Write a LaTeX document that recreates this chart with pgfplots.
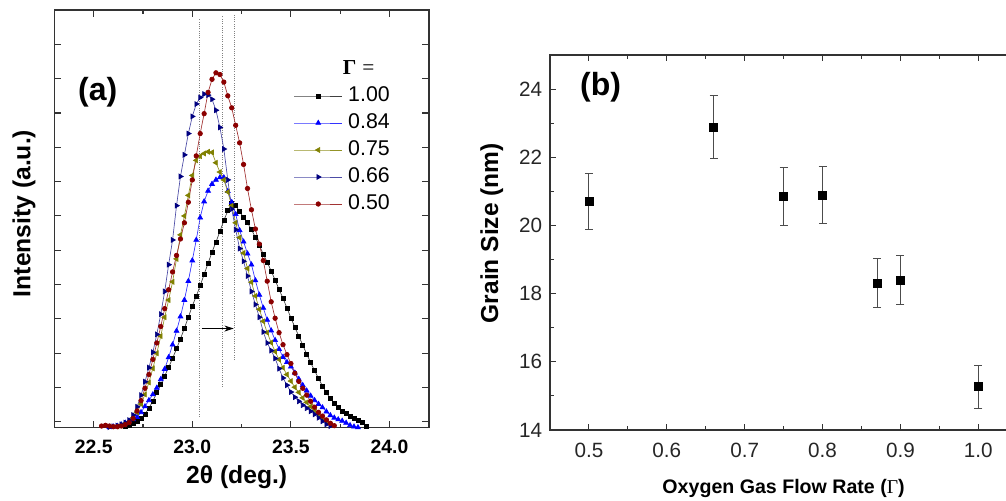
\documentclass[border=0pt]{standalone}
\usepackage{pgfplots}
\pgfplotsset{compat=1.18}
\usepackage{fontspec}
\setmainfont{Liberation Sans}
\newfontfamily\serif{Liberation Serif}
\usetikzlibrary{arrows.meta}

\definecolor{cblk}{HTML}{000000}
\definecolor{cblue}{HTML}{0000FF}
\definecolor{colive}{HTML}{808000}
\definecolor{cnavy}{HTML}{000080}
\definecolor{cred}{HTML}{8B0000}

\pgfplotstableread{
x y
22.66 -0.12
22.68 -0.09
22.70 -0.05
22.72 0.02
22.74 0.10
22.76 0.23
22.78 0.40
22.80 0.61
22.82 0.85
22.84 1.08
22.86 1.34
22.88 1.59
22.90 1.85
22.92 2.13
22.94 2.42
22.96 2.73
22.98 3.05
23.00 3.38
23.02 3.66
23.04 3.97
23.06 4.30
23.08 4.62
23.10 4.95
23.12 5.24
23.14 5.55
23.16 5.87
23.18 6.15
23.20 6.38
23.22 6.31
23.24 6.12
23.26 5.96
23.28 5.80
23.30 5.60
23.32 5.38
23.34 5.14
23.36 4.89
23.38 4.65
23.40 4.40
23.42 4.13
23.44 3.86
23.46 3.60
23.48 3.32
23.50 3.03
23.52 2.76
23.54 2.50
23.56 2.24
23.58 1.98
23.60 1.73
23.62 1.50
23.64 1.27
23.66 1.05
23.68 0.85
23.70 0.68
23.72 0.55
23.74 0.42
23.76 0.32
23.78 0.24
23.80 0.17
23.82 0.11
23.84 0.05
23.86 0.00
23.88 -0.13
}\gOne

\pgfplotstableread{
x y
22.58 -0.15
22.60 -0.14
22.62 -0.12
22.64 -0.08
22.66 -0.03
22.68 0.02
22.70 0.07
22.72 0.14
22.74 0.28
22.76 0.45
22.78 0.63
22.80 0.80
22.82 0.99
22.84 1.24
22.86 1.54
22.88 1.88
22.90 2.25
22.92 2.65
22.94 3.07
22.96 3.55
22.98 4.10
23.00 4.70
23.02 5.30
23.04 5.95
23.06 6.42
23.08 6.73
23.10 6.93
23.12 7.05
23.14 7.12
23.16 7.12
23.18 6.72
23.20 6.40
23.22 6.05
23.24 5.58
23.26 5.25
23.28 4.90
23.30 4.58
23.32 4.12
23.34 3.70
23.36 3.32
23.38 2.97
23.40 2.66
23.42 2.38
23.44 2.12
23.46 1.89
23.48 1.74
23.50 1.61
23.52 1.43
23.54 1.25
23.56 1.07
23.58 0.91
23.60 0.76
23.62 0.63
23.64 0.52
23.66 0.42
23.68 0.30
23.70 0.19
23.72 0.12
23.74 0.07
23.76 0.03
23.78 -0.03
23.80 -0.10
23.82 -0.14
23.84 -0.16
}\gEightyFour

\pgfplotstableread{
x y
22.62 -0.13
22.64 -0.10
22.66 -0.05
22.68 0.00
22.70 0.12
22.72 0.28
22.74 0.52
22.76 0.80
22.78 1.15
22.80 1.56
22.82 2.00
22.84 2.50
22.86 3.05
22.88 3.55
22.90 4.08
22.92 4.75
22.94 5.45
22.96 6.00
22.98 6.60
23.00 7.18
23.02 7.62
23.04 7.74
23.06 7.82
23.08 7.87
23.10 7.85
23.12 7.55
23.14 7.28
23.16 7.05
23.18 6.70
23.20 6.30
23.22 5.80
23.24 5.37
23.26 4.92
23.28 4.47
23.30 4.07
23.32 3.67
23.34 3.28
23.36 2.93
23.38 2.60
23.40 2.31
23.42 2.05
23.44 1.82
23.46 1.58
23.48 1.38
23.50 1.19
23.52 1.01
23.54 0.86
23.56 0.70
23.58 0.57
23.60 0.45
23.62 0.34
23.64 0.22
23.66 0.12
23.68 0.03
23.70 -0.06
}\gSeventyFive

\pgfplotstableread{
x y
22.58 -0.15
22.60 -0.13
22.62 -0.11
22.64 -0.07
22.66 -0.02
22.68 0.05
22.70 0.20
22.72 0.44
22.74 0.78
22.76 1.17
22.78 1.58
22.80 2.03
22.82 2.55
22.84 3.14
22.86 3.80
22.88 4.58
22.90 5.30
22.92 6.30
22.94 7.15
22.96 7.78
22.98 8.40
23.00 8.90
23.02 9.26
23.04 9.45
23.06 9.55
23.08 9.52
23.10 9.40
23.12 9.08
23.14 8.58
23.16 7.95
23.18 7.05
23.20 6.20
23.22 5.60
23.24 5.05
23.26 4.68
23.28 4.25
23.30 3.80
23.32 3.42
23.34 3.05
23.36 2.62
23.38 2.30
23.40 2.08
23.42 1.85
23.44 1.55
23.46 1.28
23.48 1.07
23.50 0.87
23.52 0.72
23.54 0.60
23.56 0.49
23.58 0.40
23.60 0.31
23.62 0.22
23.64 0.12
23.66 0.02
23.68 -0.07
23.70 -0.12
}\gSixtySix

\pgfplotstableread{
x y
22.54 -0.12
22.56 -0.10
22.58 -0.12
22.60 -0.14
22.62 -0.14
22.64 -0.12
22.66 -0.08
22.68 -0.02
22.70 0.10
22.72 0.32
22.74 0.62
22.76 0.98
22.78 1.38
22.80 1.82
22.82 2.30
22.84 2.78
22.86 3.30
22.88 3.85
22.90 4.37
22.92 4.85
22.94 5.33
22.96 5.80
22.98 6.40
23.00 7.05
23.02 7.75
23.04 8.40
23.06 8.98
23.08 9.60
23.10 9.98
23.12 10.17
23.14 10.12
23.16 9.90
23.18 9.50
23.20 9.15
23.22 8.64
23.24 8.13
23.26 7.50
23.28 6.80
23.30 6.18
23.32 5.62
23.34 5.18
23.36 4.70
23.38 4.10
23.40 3.50
23.42 3.02
23.44 2.60
23.46 2.25
23.48 1.96
23.50 1.70
23.52 1.42
23.54 1.18
23.56 0.98
23.58 0.78
23.60 0.60
23.62 0.43
23.64 0.28
23.66 0.17
23.68 0.06
23.70 -0.04
23.72 -0.11
}\gFifty

\pgfplotstableread{
x y e
0.50 20.70 0.83
0.66 22.88 0.92
0.75 20.85 0.84
0.80 20.90 0.83
0.87 18.30 0.72
0.90 18.40 0.73
1.00 15.27 0.63
}\grain

\begin{document}
\begin{tikzpicture}
% ---------------- panel (a)
\begin{axis}[
  at={(40.7pt,54.2pt)}, anchor=south west, scale only axis,
  width=281pt, height=313.3pt,
  xmin=22.3, xmax=24.2, ymin=-0.17, ymax=12,
  xtick={22.5,23.0,23.5,24.0}, minor x tick num=1,
  ytick={0,1,2,3,4,5,6,7,8,9,10,11}, yticklabels={},
  tick align=inside, major tick length=5pt, minor tick length=3pt,
  axis line style={black!80, line width=1pt},
  every tick/.style={black!80, line width=0.8pt},
  /pgf/number format/assume math mode=true,
  xticklabel style={font=\fontsize{14.5}{17}\selectfont\bfseries,
    anchor=center, yshift=-14.25pt,
    /pgf/number format/fixed, /pgf/number format/fixed zerofill,
    /pgf/number format/precision=1},
  xlabel={2θ (deg.)},
  ylabel={Intensity (a.u.)},
  x label style={font=\fontsize{18.5}{22}\selectfont\bfseries,
    at={(rel axis cs:0.4868,-0.119)}, anchor=center},
  y label style={font=\fontsize{18.5}{22}\selectfont\bfseries,
    at={(rel axis cs:-0.0809,0.5128)}, anchor=center},
  legend style={at={(rel axis cs:0.6397,0.8827)}, anchor=north west,
    draw=none, fill=none, inner sep=0pt, outer sep=0pt,
    font=\fontsize{16}{19}\selectfont, row sep=5.25pt, column sep=4.2pt,
    nodes={inner sep=0pt, text height=12pt, text depth=3pt}},
  legend cell align=left,
  legend image code/.code={\draw[mark repeat=2,mark phase=2,#1]
    plot coordinates {(0pt,0pt) (18pt,0pt) (36pt,0pt)};},
]
\addlegendimage{empty legend}
\addlegendentry{\hspace*{-4pt}{\serif\bfseries Γ} {\serif =}}

\draw[black!50, densely dotted, line width=0.7pt] (axis cs:23.0386,0.146) -- (axis cs:23.0386,11.75);
\draw[black!50, densely dotted, line width=0.7pt] (axis cs:23.1507,1.02) -- (axis cs:23.1507,11.84);
\draw[black!50, densely dotted, line width=0.7pt] (axis cs:23.2136,1.80) -- (axis cs:23.2136,11.84);
\draw[-{Stealth[length=7pt,width=4.5pt]}, black, line width=0.6pt] (axis cs:23.047,2.72) -- (axis cs:23.21,2.72);

\addplot[cblk!75, line width=0.5pt, mark=square*, mark size=1.5pt, mark options={fill=cblk, draw=cblk}] table[x=x,y=y] {\gOne};
\addlegendentry{1.00}
\addplot[cblue!80, line width=0.5pt, mark=triangle*, mark size=2.1pt, mark options={fill=cblue, draw=cblue}] table[x=x,y=y] {\gEightyFour};
\addlegendentry{0.84}
\addplot[colive!85, line width=0.5pt, mark=triangle*, mark size=2.1pt, mark options={rotate=90, fill=colive, draw=colive}] table[x=x,y=y] {\gSeventyFive};
\addlegendentry{0.75}
\addplot[cnavy!70, line width=0.5pt, mark=triangle*, mark size=2.1pt, mark options={rotate=-90, fill=cnavy, draw=cnavy}] table[x=x,y=y] {\gSixtySix};
\addlegendentry{0.66}
\addplot[cred!80, line width=0.5pt, mark=*, mark size=1.7pt, mark options={fill=cred, draw=cred}] table[x=x,y=y] {\gFifty};
\addlegendentry{0.50}

\node[font=\fontsize{24}{28}\selectfont\bfseries] at (axis cs:22.52,9.61) {(a)};
\end{axis}

% ---------------- panel (b)
\begin{axis}[
  at={(412.5pt,52.5pt)}, anchor=south west, scale only axis,
  width=350.4pt, height=281.25pt,
  xmin=0.45, xmax=1.05, ymin=14, ymax=25,
  xtick={0.5,0.6,0.7,0.8,0.9,1.0}, minor x tick num=1,
  ytick={14,16,18,20,22,24}, minor y tick num=1,
  tick align=inside, major tick length=4.5pt, minor tick length=2.7pt,
  axis line style={black!80, line width=1pt},
  every tick/.style={black!80, line width=0.8pt},
  /pgf/number format/assume math mode=true,
  xticklabel style={font=\fontsize{15.5}{18}\selectfont, text=black!85,
    anchor=center, yshift=-15pt,
    /pgf/number format/fixed, /pgf/number format/fixed zerofill,
    /pgf/number format/precision=1},
  yticklabel style={font=\fontsize{15.5}{18}\selectfont, text=black!85, xshift=-2.3pt},
  xlabel={Oxygen Gas Flow Rate ({\serif\mdseries Γ})},
  ylabel={Grain Size (nm)},
  x label style={font=\fontsize{14.7}{18}\selectfont\bfseries,
    at={(rel axis cs:0.500,-0.1547)}, anchor=center},
  y label style={font=\fontsize{18.4}{22}\selectfont\bfseries,
    at={(rel axis cs:-0.1248,0.525)}, anchor=center},
]
\addplot[only marks, mark=square*, mark size=3pt, black,
  error bars/.cd, y dir=both, y explicit,
  error bar style={black!70, line width=0.8pt},
  error mark options={rotate=90, mark size=3pt, black!70, line width=0.8pt}]
  table[x=x, y=y, y error=e] {\grain};
\node[font=\fontsize{24}{28}\selectfont\bfseries] at (axis cs:0.515,24.06) {(b)};
\end{axis}

\pgfresetboundingbox
\path[use as bounding box] (0,0) rectangle (754.5pt,375pt);
\end{tikzpicture}
\end{document}
